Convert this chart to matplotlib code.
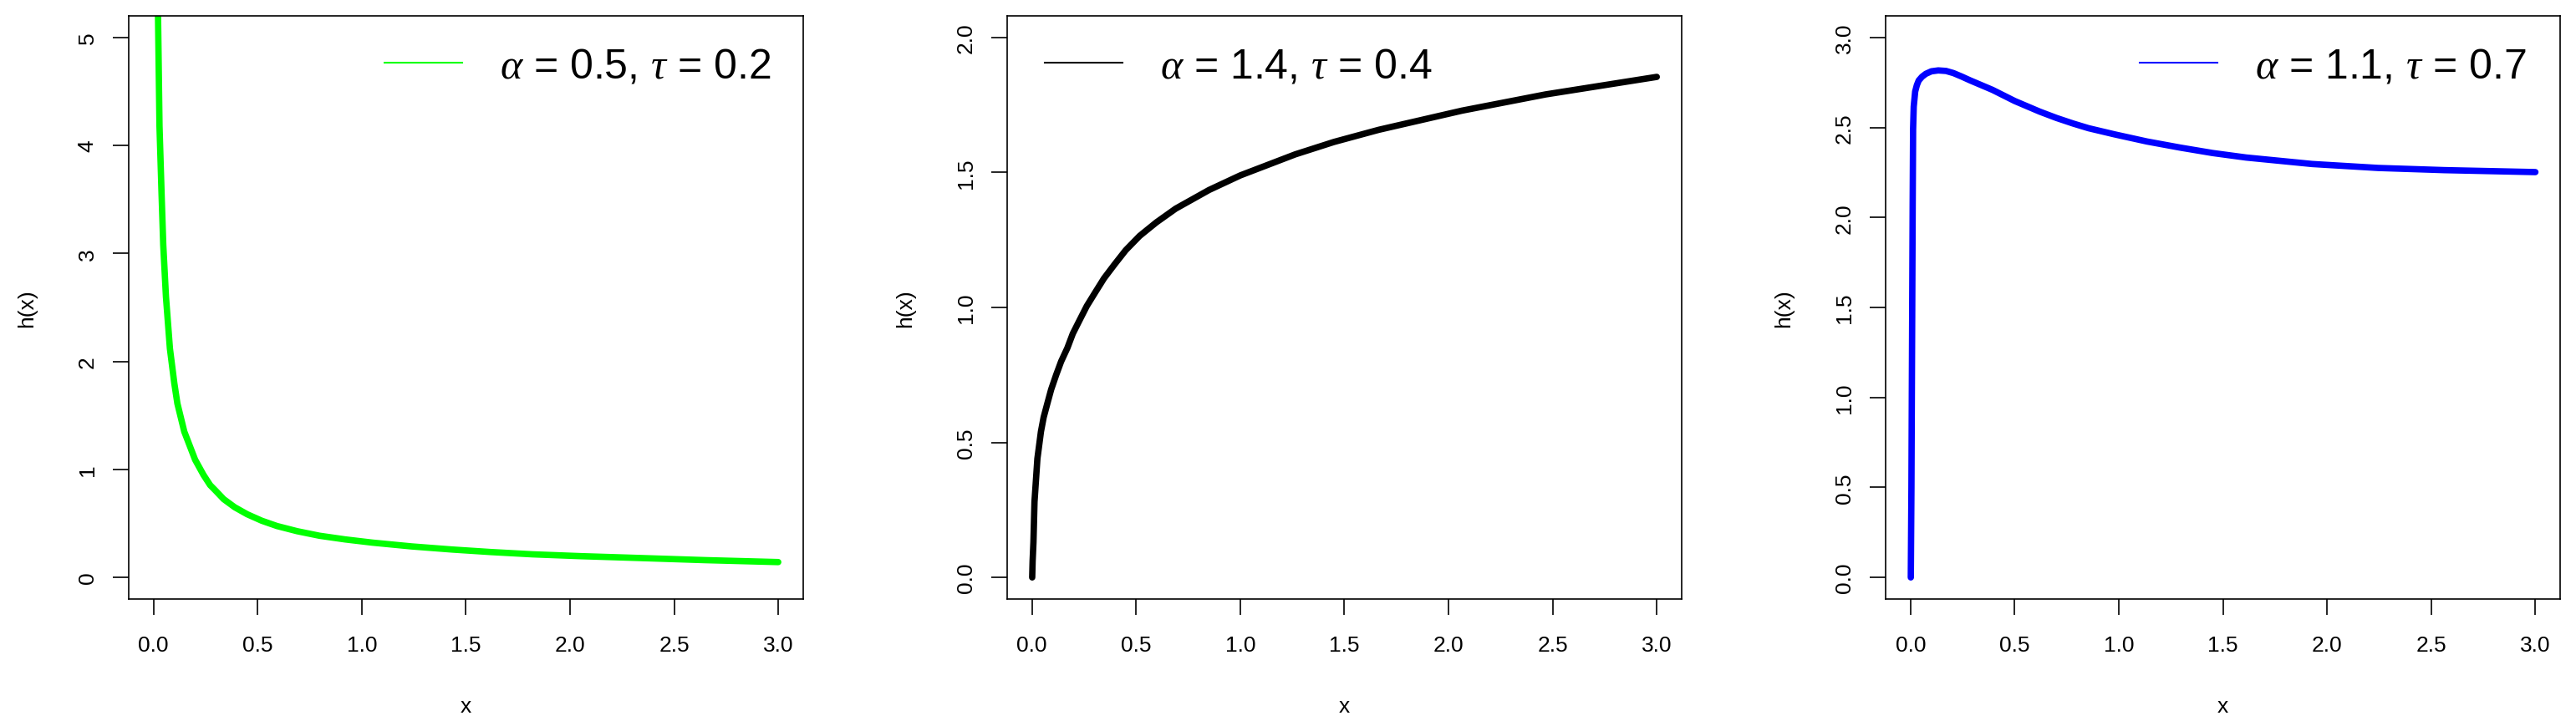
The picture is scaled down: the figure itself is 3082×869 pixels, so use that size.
import matplotlib
matplotlib.use("Agg")
import matplotlib.pyplot as plt
from matplotlib.lines import Line2D
from matplotlib.ticker import FormatStrFormatter

plt.rcParams['font.family'] = ['Liberation Sans', 'DejaVu Sans']
plt.rcParams['mathtext.fontset'] = 'custom'
plt.rcParams['mathtext.rm'] = 'Liberation Sans'
plt.rcParams['mathtext.it'] = 'Liberation Serif:italic'

# values
x_green = [0.017, 0.022, 0.029, 0.039, 0.047, 0.060, 0.079, 0.100, 0.115, 0.148,
           0.200, 0.240, 0.272, 0.300, 0.337, 0.390, 0.450, 0.520, 0.593, 0.690,
           0.797, 0.920, 1.052, 1.240, 1.436, 1.620, 1.819, 2.050, 2.330, 2.650,
           3.000]
y_green = [6.00, 5.19, 4.18, 3.55, 3.08, 2.60, 2.12, 1.80, 1.61, 1.35,
           1.09, 0.95, 0.855, 0.80, 0.725, 0.65, 0.585, 0.525, 0.476, 0.428,
           0.386, 0.352, 0.322, 0.287, 0.258, 0.235, 0.214, 0.197, 0.180, 0.160,
           0.142]

x_black = [0.001, 0.003, 0.007, 0.012, 0.026, 0.043, 0.056, 0.074, 0.092, 0.116,
           0.140, 0.170, 0.196, 0.230, 0.263, 0.303, 0.346, 0.397, 0.450, 0.517,
           0.597, 0.690, 0.850, 1.000, 1.264, 1.450, 1.665, 2.065, 2.466, 3.000]
y_black = [0.00, 0.06, 0.13, 0.28, 0.44, 0.54, 0.593, 0.645, 0.696, 0.75,
           0.80, 0.85, 0.903, 0.955, 1.005, 1.055, 1.108, 1.16, 1.212, 1.265,
           1.315, 1.366, 1.435, 1.489, 1.567, 1.613, 1.658, 1.729, 1.789, 1.854]

x_blue = [0.001, 0.004, 0.006, 0.010, 0.012, 0.015, 0.022, 0.030, 0.039, 0.055,
          0.073, 0.100, 0.133, 0.170, 0.206, 0.245, 0.287, 0.393, 0.500, 0.620,
          0.700, 0.780, 0.854, 0.978, 1.135, 1.295, 1.450, 1.611, 1.928, 2.245,
          2.562, 3.000]
y_blue = [0.00, 0.50, 1.04, 2.08, 2.49, 2.616, 2.70, 2.735, 2.761, 2.782,
          2.798, 2.812, 2.817, 2.814, 2.802, 2.783, 2.761, 2.709, 2.647, 2.588,
          2.553, 2.522, 2.496, 2.462, 2.422, 2.388, 2.358, 2.333, 2.297, 2.275,
          2.263, 2.252]

labels = [r'$\alpha$ = 0.5, $\tau$ = 0.2',
          r'$\alpha$ = 1.4, $\tau$ = 0.4',
          r'$\alpha$ = 1.1, $\tau$ = 0.7']
x_ticks = [0.0, 0.5, 1.0, 1.5, 2.0, 2.5, 3.0]
y_ticks = [[0, 1, 2, 3, 4, 5],
           [0.0, 0.5, 1.0, 1.5, 2.0],
           [0.0, 0.5, 1.0, 1.5, 2.0, 2.5, 3.0]]
y_limits = [(-0.2, 5.2), (-0.08, 2.08), (-0.12, 3.12)]
y_formats = ['%d', '%.1f', '%.1f']

W, H = 3082, 870
fig = plt.figure(figsize=(W / 100, H / 100), dpi=100)

lefts = [153.7, 1204.8, 2256.0]
ax_w, top, bottom = 807.3, 20, 718

series = [(x_green, y_green, '#00FF00'),
          (x_black, y_black, '#000000'),
          (x_blue, y_blue, '#0000FF')]
# legend anchor in axes coords (text right edge / line start, line centre)
leg_loc = ['center right', 'center left', 'center right']
leg_anchor = [(0.9517, 0.913), (0.0565, 0.914), (0.950, 0.913)]

for i, (xs, ys, col) in enumerate(series):
    ax = fig.add_axes([lefts[i] / W, (H - bottom) / H, ax_w / W, (bottom - top) / H])
    ax.plot(xs, ys, color=col, linewidth=5.5, solid_capstyle='round',
            solid_joinstyle='round')
    ax.set_xlim(-0.12, 3.12)
    ax.set_ylim(*y_limits[i])
    ax.set_xticks(x_ticks)
    ax.set_yticks(y_ticks[i])
    ax.xaxis.set_major_formatter(FormatStrFormatter('%.1f'))
    ax.yaxis.set_major_formatter(FormatStrFormatter(y_formats[i]))
    ax.tick_params(direction='out', length=13.7, width=1.2, labelsize=19)
    ax.tick_params(axis='x', pad=17)
    ax.tick_params(axis='y', pad=13)
    for lab in ax.get_yticklabels():
        lab.set_rotation(90)
        lab.set_va('center')
    for sp in ax.spines.values():
        sp.set_linewidth(1.2)

    ax.set_xlabel('x', fontsize=19, va='center')
    ax.xaxis.set_label_coords(0.5, -0.184)
    ax.set_ylabel('h(x)', fontsize=19, va='center')
    ax.yaxis.set_label_coords(-0.1507, 0.5)

    handle = Line2D([], [], color=col, linewidth=1.5)
    ax.legend([handle], [labels[i]], loc=leg_loc[i], bbox_to_anchor=leg_anchor[i],
              frameon=False, fontsize=36, handlelength=1.86, handletextpad=0.9,
              borderpad=0, borderaxespad=0)

plt.savefig('out.png', dpi=100)
